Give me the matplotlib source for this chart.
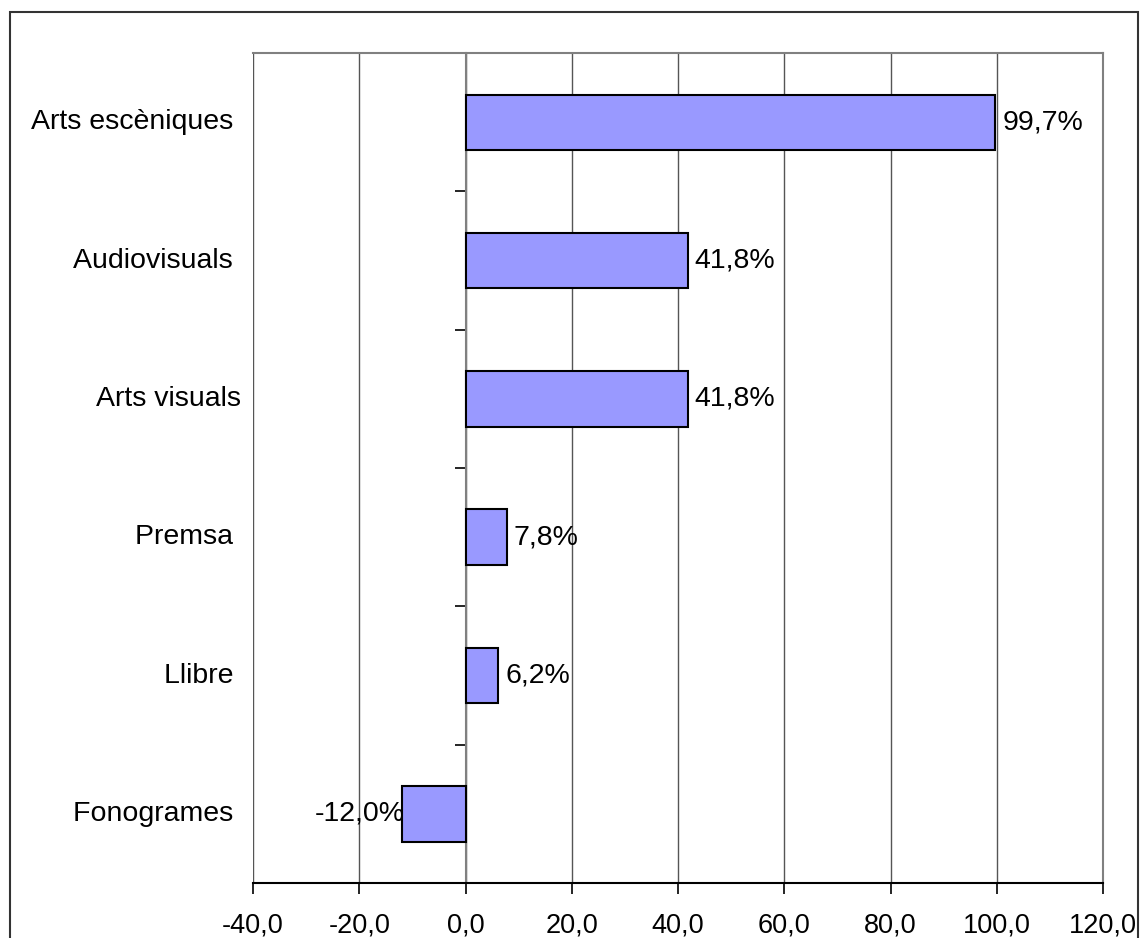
import matplotlib.pyplot as plt
from matplotlib.patches import Rectangle

plt.rcParams['font.family'] = ['Liberation Sans', 'DejaVu Sans']

# data (top to bottom as in the chart)
categories = ['Arts escèniques ', 'Audiovisuals ', 'Arts visuals', 'Premsa ', 'Llibre ', 'Fonogrames ']
values = [99.7, 41.8, 41.8, 7.8, 6.2, -12.0]
xticks = [-40, -20, 0, 20, 40, 60, 80, 100, 120]

W, H = 1144, 938
fig = plt.figure(figsize=(W / 100, H / 100), dpi=100)

# outer frame of the chart object (runs off the bottom of the picture)
fig.patches.append(Rectangle((10 / W, -0.05), (1138 - 10) / W, 1.05 - 12 / H,
                             transform=fig.transFigure, fill=False,
                             edgecolor='#333333', linewidth=1.5))

ax = fig.add_axes([253 / W, 1 - 883 / H, (1103 - 253) / W, (883 - 53) / H])

pos = list(range(len(categories)))
ax.barh(pos, values, height=0.4, color='#9999FF', edgecolor='black', linewidth=1.5, zorder=3)

ax.set_xlim(-40, 120)
ax.set_ylim(len(categories) - 0.5, -0.5)

# vertical gridlines
ax.set_xticks(xticks)
ax.set_xticklabels([f'{t:.1f}'.replace('.', ',') for t in xticks], fontsize=19.5)
ax.grid(axis='x', color='#555555', linewidth=1, zorder=0)
ax.tick_params(axis='x', direction='out', length=8, width=1.2, color='black', pad=13)

# y axis drawn at x = 0 with ticks between categories
ax.spines['left'].set_position(('data', 0))
ax.spines['left'].set_color('#808080')
ax.spines['left'].set_linewidth(1.5)
ax.set_yticks([p + 0.5 for p in pos[:-1]])
ax.set_yticklabels([])
ax.tick_params(axis='y', direction='out', length=8, width=1.2, color='black')

for s in ['top', 'right']:
    ax.spines[s].set_color('#808080')
    ax.spines[s].set_linewidth(1.5)
ax.spines['bottom'].set_color('black')
ax.spines['bottom'].set_linewidth(1.5)

# category labels left of the plot area
for p, c in zip(pos, categories):
    ax.annotate(c, xy=(0, p), xycoords=('axes fraction', 'data'),
                xytext=(-12, 0), textcoords='offset pixels',
                ha='right', va='center', fontsize=20.5)

# value labels
for p, v in zip(pos, values):
    txt = f'{v:.1f}%'.replace('.', ',')
    if v >= 0:
        ax.annotate(txt, xy=(v, p), xytext=(7, 0), textcoords='offset pixels',
                    ha='left', va='center', fontsize=20.5, zorder=4)
    else:
        ax.annotate(txt, xy=(v, p), xytext=(3, 0), textcoords='offset pixels',
                    ha='right', va='center', fontsize=20.5, zorder=4)

fig.savefig('out.png', dpi=100)
